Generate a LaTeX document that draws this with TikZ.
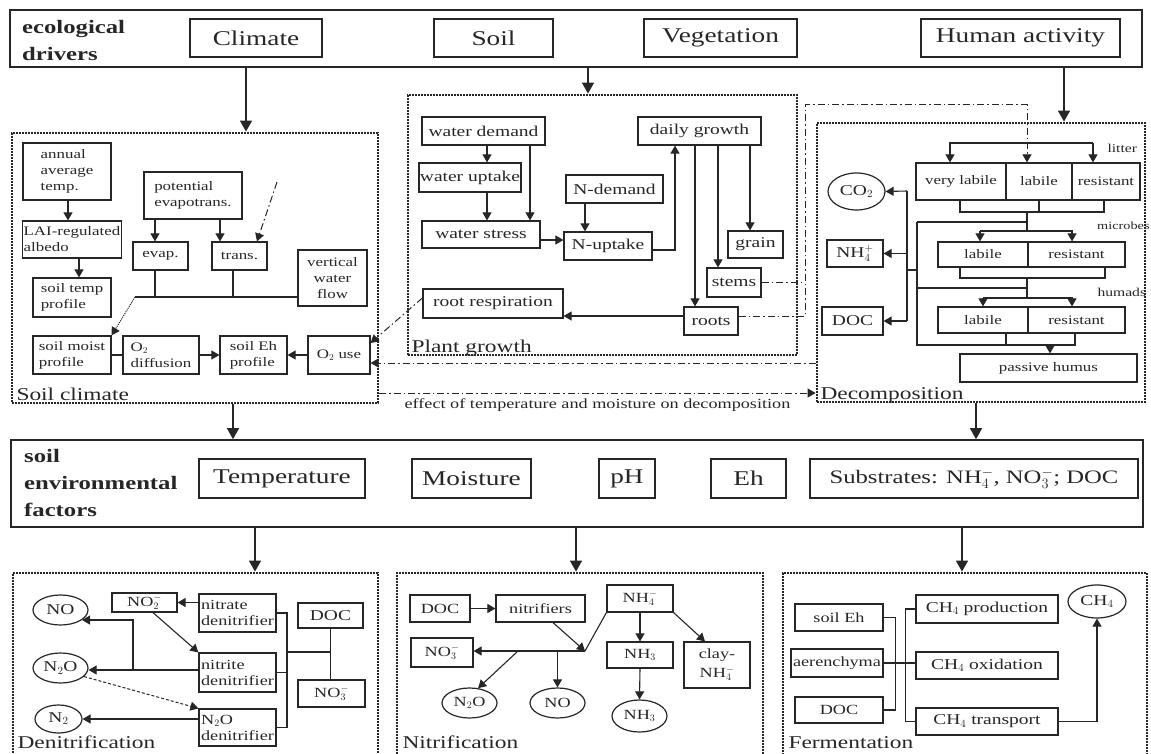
\documentclass[tikz,border=0pt]{standalone}
\usepackage{fontspec}
\setmainfont{Liberation Serif}[FakeStretch=1.3]
\usepackage{tikz}
\usetikzlibrary{arrows.meta,shapes.geometric}
\newcommand{\fbig}{\fontsize{21}{24}\selectfont}
\newcommand{\fhead}{\fontsize{19}{27}\selectfont\bfseries}
\newcommand{\fsec}{\fontsize{18}{20}\selectfont}
\newcommand{\fmid}{\fontsize{15}{17}\selectfont}
\newcommand{\fsc}{\fontsize{13}{16}\selectfont}
\newcommand{\fdn}{\fontsize{14}{16}\selectfont}
\newcommand{\ftiny}{\fontsize{12}{14}\selectfont}

\begin{document}
\begin{tikzpicture}[x=1pt, y=-1pt, color=black!85,
    wh/.style 2 args={minimum width=#1pt, minimum height=#2pt},
    box/.style={draw, line width=1.2pt, inner sep=1pt, align=center},
    oval/.style={draw, ellipse, line width=1.2pt, inner sep=0pt},
    bar/.style={draw, line width=1.6pt, inner sep=0pt},
    sect/.style={draw, line width=2.8pt, dash pattern=on 2pt off 1pt, inner sep=0pt},
    arr/.style={-{Triangle[length=8pt,width=9pt]}, line width=1.1pt},
    bigarr/.style={-{Triangle[length=11pt,width=12pt]}, line width=1.4pt},
    dd/.style={line width=1pt, dash pattern=on 7pt off 3pt on 1.5pt off 3pt},
    ln/.style={line width=1.1pt}]
    \useasboundingbox (0,0) rectangle (1151,754);

    % Ecological drivers
    \node[bar, wh={1132}{57}] (drivers) at (576,38.5) {};
    \node[anchor=north west, align=left, inner sep=0, font=\fhead] (drvlbl) at (22,20) {ecological\\drivers};
    \node[box, wh={132}{38}, font=\fbig] (climate) at (256,38) {Climate};
    \node[box, wh={119}{38}, font=\fbig] (soil) at (493.5,38) {Soil};
    \node[box, wh={153}{38}, font=\fbig] (veg) at (720.5,38) {Vegetation};
    \node[box, wh={199}{38}, font=\fbig] (human) at (1020.5,38) {Human activity};

    % Model sections
    \node[sect, wh={366}{270}] (soilclim) at (195,268) {};
    \node[sect, wh={389}{260}] (plantgr) at (602.5,225) {};
    \node[sect, wh={328}{279}] (decomp) at (981,262.5) {};
    \node[anchor=base west, font=\fsec] (sclbl) at (13,400) {Soil climate};
    \node[anchor=base west, font=\fsec] (pglbl) at (408,352) {Plant growth};
    \node[anchor=base west, font=\fsec] (dclbl) at (817,399) {Decomposition};

    \draw[bigarr] (drivers.south -| 246,0) -- (soilclim.north -| 246,0);
    \draw[bigarr] (drivers.south -| 588,0) -- (plantgr.north -| 588,0);
    \draw[bigarr] (drivers.south -| 1064,0) -- (decomp.north -| 1064,0);

    % Soil climate
    \node[box, wh={88}{57}, align=left, font=\fsc] (annual) at (67,171.5) {annual\\average\\temp.};
    \node[box, wh={98}{37}, align=left, font=\fsc] (lai) at (72,239.5) {LAI-regulated\\albedo};
    \node[box, wh={78}{39}, align=left, font=\fsc] (soiltemp) at (72,297.5) {soil temp\\profile};
    \node[box, wh={98}{47}, align=left, font=\fsc] (potevap) at (193,195.5) {potential\\evapotrans.};
    \node[box, wh={55}{28}, font=\fsc] (evap) at (160.5,256) {evap.};
    \node[box, wh={55}{28}, font=\fsc] (trans) at (239.5,256) {trans.};
    \node[box, wh={69}{56}, font=\fsc] (vflow) at (332.5,278) {vertical\\water\\flow};
    \node[box, wh={78}{38}, align=left, font=\fsc] (soilmoist) at (72,355) {soil moist\\profile};
    \node[box, wh={76}{38}, align=left, font=\fsc] (otwodiff) at (161,355) {O$_2$\\diffusion};
    \node[box, wh={67}{38}, align=left, font=\fsc] (soileh) at (253.5,355) {soil Eh\\profile};
    \node[box, wh={62}{38}, font=\fsc] (otwouse) at (339,355) {O$_2$ use};

    \draw[arr] (annual.south -| 68,0) -- (lai.north -| 68,0);
    \draw[arr] (lai.south -| 79,0) -- (soiltemp.north -| 79,0);
    \draw[arr] (potevap.south -| 155,0) -- (evap.north -| 155,0);
    \draw[arr] (potevap.south -| 220,0) -- (trans.north -| 220,0);
    \coordinate (vegin) at (277,182);
    \draw[dd, arr, line width=1pt] (vegin) -- (trans.north -| 257,0);
    \coordinate (wjoin) at (135,297);
    \draw[ln] (vflow.west |- wjoin) -- (wjoin);
    \draw[ln] (evap.south -| 155,0) -- (wjoin -| 155,0);
    \draw[ln] (trans.south -| 233,0) -- (wjoin -| 233,0);
    \draw[arr, densely dotted, line width=1pt] (wjoin) -- (soilmoist.north east);
    \draw[ln] (soilmoist.east) -- (otwodiff.west);
    \draw[arr] (otwodiff.east) -- (soileh.west);
    \draw[arr] (otwouse.west) -- (soileh.east);

    % Plant growth
    \node[box, wh={123}{28}, font=\fmid] (wdem) at (483.5,131) {water demand};
    \node[box, wh={96}{29}, font=\fmid] (wupt) at (470,177.5) {water uptake};
    \node[box, wh={118}{27}, font=\fmid] (wstr) at (481,234.5) {water stress};
    \node[box, wh={97}{28}, font=\fmid] (ndem) at (614.5,189) {N-demand};
    \node[box, wh={88}{28}, font=\fmid] (nupt) at (608,246) {N-uptake};
    \node[box, wh={123}{28}, font=\fmid] (dgrow) at (699.5,131) {daily growth};
    \node[box, wh={55}{27}, font=\fmid] (grain) at (755.5,244.5) {grain};
    \node[box, wh={54}{29}, font=\fmid] (stems) at (734,282.5) {stems};
    \node[box, wh={140}{29}, font=\fmid] (rresp) at (493,303.5) {root respiration};
    \node[box, wh={54}{28}, font=\fmid] (roots) at (711,321) {roots};

    \draw[arr] (wdem.south -| 487,0) -- (wupt.north -| 487,0);
    \draw[arr] (wdem.south -| 530,0) -- (wstr.north -| 530,0);
    \draw[arr] (wupt.south -| 487,0) -- (wstr.north -| 487,0);
    \draw[arr] (wstr.east |- 0,240) -- (nupt.west |- 0,240);
    \draw[arr] (ndem.south -| 585,0) -- (nupt.north -| 585,0);
    \draw[arr] (nupt.east |- 0,250) -| (dgrow.south -| 675,0);
    \draw[arr] (dgrow.south -| 695,0) -- (roots.north -| 695,0);
    \draw[arr] (dgrow.south -| 718,0) -- (stems.north -| 718,0);
    \draw[arr] (dgrow.south -| 750,0) -- (grain.north -| 750,0);
    \draw[arr] (roots.west |- 0,316) -- (rresp.east |- 0,316);

    % Decomposition
    \node[box, wh={90}{37}, font=\fsc] (vlab) at (961,181.5) {very labile};
    \node[box, wh={66}{37}, font=\fsc] (llab) at (1039,181.5) {labile};
    \node[box, wh={68}{37}, font=\fsc] (lres) at (1106,181.5) {resistant};
    \node[box, wh={90}{25}, font=\fsc] (mlab) at (983,254.5) {labile};
    \node[box, wh={97}{25}, font=\fsc] (mres) at (1076.5,254.5) {resistant};
    \node[box, wh={90}{26}, font=\fsc] (hlab) at (983,320) {labile};
    \node[box, wh={97}{26}, font=\fsc] (hres) at (1076.5,320) {resistant};
    \node[box, wh={177}{28}, font=\fsc] (phum) at (1048.5,368) {passive humus};
    \node[oval, wh={57}{37}, font=\fmid] (cotwo) at (856.5,191.5) {CO$_2$};
    \node[box, wh={56}{27}, font=\fmid] (nhfour) at (855,253.5) {NH$_4^+$};
    \node[box, wh={61}{28}, font=\fmid] (ddoc) at (852.5,321) {DOC};
    \node[anchor=west, font=\ftiny] (litlbl) at (1104,148) {litter};
    \node[anchor=west, inner sep=1pt, font=\fontsize{11}{13}\selectfont] (miclbl) at (1096,226) {microbes};
    \node[anchor=west, font=\ftiny] (humlbl) at (1094,292) {humads};

    \coordinate (litend) at (1093,143);
    \draw[arr] (litend) -| (vlab.north -| 950,0);
    \draw[arr] (litend) -- (lres.north -| 1093,0);
    \draw[ln] (vlab.south -| 960,0) -- (960,212) -- (1104,212) -- (lres.south -| 1104,0);
    \draw[ln] (llab.south -| 1039,0) -- (1039,212);
    \draw[ln] (1027,212) -- (1027,231);
    \draw[ln] (917,222) -- (1027,222);
    \draw[arr] (980,231) -- (mlab.north -| 980,0);
    \draw[arr] (980,231) -- (1072,231) -- (mres.north -| 1072,0);
    \draw[ln] (mlab.south -| 960,0) -- (960,278) -- (1105,278) -- (mres.south -| 1105,0);
    \draw[ln] (1027,278) -- (1027,298);
    \draw[ln] (917,288) -- (1027,288);
    \draw[arr] (983,298) -- (hlab.north -| 983,0);
    \draw[arr] (983,298) -- (1072,298) -- (hres.north -| 1072,0);
    \draw[ln] (hlab.south -| 1006,0) -- (1006,345);
    \draw[ln] (hres.south -| 1075,0) -- (1075,345) -- (917,345) -- (917,222);
    \draw[arr] (1050,345) -- (phum.north -| 1050,0);
    \draw[ln] (917,270) -- (907,270);
    \draw[ln] (907,191) -- (907,321);
    \draw[arr] (907,191) -- (cotwo.east);
    \draw[arr] (907,253.5) -- (nhfour.east);
    \draw[arr] (907,321) -- (ddoc.east);

    % Links between sections (dash-dot)
    \coordinate (pbus) at (805,105);
    \draw[dd] (stems.east) -- (stems.east -| pbus);
    \draw[dd, arr, line width=1pt] (roots.east |- 0,316) -| (pbus) -| (llab.north -| 1027,0);
    \draw[dd, arr, line width=1pt] (rresp.west |- 0,298) -- (otwouse.east |- 0,343);
    \draw[dd, arr, line width=1pt] (decomp.west |- 0,363) -- (otwouse.east |- 0,363);
    \draw[dd, arr, line width=1pt] (soilclim.east |- 0,393) -- (decomp.west |- 0,393)
        node[midway, below=2pt, font=\fdn] (efflbl) {effect of temperature and moisture on decomposition};

    % Soil environmental factors
    \node[bar, wh={1132}{87}] (envf) at (577,483.5) {};
    \node[anchor=north west, align=left, inner sep=0, font=\fhead] (envlbl) at (24,449) {soil\\environmental\\factors};
    \node[box, wh={166}{39}, font=\fbig] (temp) at (282,478.5) {Temperature};
    \node[box, wh={119}{39}, font=\fbig] (moist) at (471.5,478.5) {Moisture};
    \node[box, wh={56}{39}, font=\fbig] (ph) at (627,478.5) {pH};
    \node[box, wh={75}{39}, font=\fbig] (eh) at (748.5,478.5) {Eh};
    \node[box, wh={328}{39}, font=\fontsize{19}{22}\selectfont] (subs) at (974,478.5) {Substrates: NH$_4^-$, NO$_3^-$; DOC};

    \draw[bigarr] (soilclim.south -| 233,0) -- (envf.north -| 233,0);
    \draw[bigarr] (decomp.south -| 976,0) -- (envf.north -| 976,0);

    % Bottom processes
    \node[sect, wh={365}{184}] (denit) at (195.5,665) {};
    \node[sect, wh={366}{184}] (nitrif) at (580,665) {};
    \node[sect, wh={364}{184}] (ferm) at (965,665) {};
    \node[anchor=base west, font=\fsec] (dnlbl) at (14,748) {Denitrification};
    \node[anchor=base west, font=\fsec] (nilbl) at (399,748) {Nitrification};
    \node[anchor=base west, font=\fsec] (felbl) at (785,748) {Fermentation};

    \draw[bigarr] (envf.south -| 255,0) -- (denit.north -| 255,0);
    \draw[bigarr] (envf.south -| 576,0) -- (nitrif.north -| 576,0);
    \draw[bigarr] (envf.south -| 962,0) -- (ferm.north -| 962,0);

    % Denitrification
    \node[oval, wh={55}{30}, font=\fmid] (no) at (60.5,610) {NO};
    \node[oval, wh={55}{30}, font=\fmid] (ntwoo) at (60.5,668) {N$_2$O};
    \node[oval, wh={47}{28}, font=\fmid] (ntwo) at (58.5,719) {N$_2$};
    \node[box, wh={65}{19}, inner sep=0pt, font=\fdn] (notwo) at (144.5,602.5) {NO$_2^-$};
    \node[box, wh={77}{38}, align=left, font=\fdn] (nrat) at (237.5,613) {nitrate\\denitrifier};
    \node[box, wh={77}{39}, align=left, font=\fdn] (nrit) at (237.5,672.5) {nitrite\\denitrifier};
    \node[box, wh={77}{37}, align=left, font=\fdn] (nntwoo) at (237.5,727.5) {N$_2$O\\denitrifier};
    \node[box, wh={65}{25}, font=\fmid] (dndoc) at (330.5,615.5) {DOC};
    \node[box, wh={67}{27}, font=\fdn] (nothree) at (331.5,693.5) {NO$_3^-$};

    \draw[arr] (nrat.west |- notwo.east) -- (notwo.east);
    \draw[arr] (notwo.south -| 153,0) -- (nrit.north west);
    \draw[arr] (nrit.west |- 0,670) -- (ntwoo.east |- 0,670);
    \coordinate (dnj) at (133,670);
    \draw[arr] (dnj) |- (no.-25);
    \draw[arr, densely dashed, line width=1pt] (ntwoo.-20) -- (nntwoo.north west);
    \draw[arr] (nntwoo.west |- ntwo.east) -- (ntwo.east);
    \coordinate (dnbus) at (287,652);
    \draw[ln] (nrat.east) -| (dnbus) |- (nntwoo.east);
    \draw[ln] (nrit.east) -- (nrit.east -| dnbus);
    \draw[ln] (dnbus) -- (dnbus -| dndoc.south);
    \draw[ln] (dndoc.south) -- (nothree.north -| dndoc.south);

    % Nitrification
    \node[box, wh={60}{27}, font=\fdn] (nidoc) at (440,608.5) {DOC};
    \node[box, wh={89}{27}, font=\fdn] (nitr) at (540.5,608.5) {nitrifiers};
    \node[box, wh={66}{27}, font=\fdn] (nhfourb) at (640,598.5) {NH$_4^-$};
    \node[box, wh={62}{29}, font=\fdn] (nothreeb) at (442,652.5) {NO$_3^-$};
    \node[box, wh={66}{26}, font=\fdn] (nhthreeb) at (640,655) {NH$_3$};
    \node[box, wh={66}{46}, font=\fontsize{14}{19}\selectfont] (clay) at (717,665) {clay-\\NH$_4^-$};
    \node[oval, wh={55}{30}, font=\fdn] (ntwooe) at (469.5,703) {N$_2$O};
    \node[oval, wh={55}{30}, font=\fdn] (noe) at (557.5,703) {NO};
    \node[oval, wh={55}{32}, font=\fdn] (nhthreee) at (639.5,716) {NH$_3$};

    \draw[arr] (nidoc.east) -- (nitr.west);
    \coordinate (nij) at (585,651);
    \draw[arr] (nitr.south -| 553,0) -- (nij);
    \draw[ln] (nhfourb.south west) -- (nij);
    \draw[arr] (nij) -- (nothreeb.east |- nij);
    \draw[arr] (nij -| 518,0) -- (ntwooe.60);
    \draw[arr] (nij -| noe.north) -- (noe.north);
    \draw[arr] (nhfourb.south) -- (nhthreeb.north);
    \draw[arr] (nhthreeb.south) -- (nhthreee.north);
    \draw[arr] (nhfourb.south east) -- (clay.north -| 705,0);

    % Fermentation
    \node[box, wh={88}{27}, font=\fdn] (feh) at (839,617.5) {soil Eh};
    \node[box, wh={92}{28}, font=\fdn] (aer) at (837,663) {aerenchyma};
    \node[box, wh={88}{26}, font=\fdn] (fdoc) at (839,710) {DOC};
    \node[box, wh={142}{28}, font=\fmid] (chprod) at (987,609) {CH$_4$ production};
    \node[box, wh={142}{27}, font=\fmid] (choxid) at (987,665.5) {CH$_4$ oxidation};
    \node[box, wh={142}{27}, font=\fmid] (chtrans) at (987,721.5) {CH$_4$ transport};
    \node[oval, wh={58}{33}, font=\fmid] (chfour) at (1097,601.5) {CH$_4$};

    \draw[ln] (feh.east) -- ++(12,0) |- (fdoc.east);
    \draw[ln] (chprod.west) -- ++(-10,0) |- (chtrans.west);
    \draw[ln] (aer.east) -- (choxid.west |- aer.east);
    \draw[arr] (chtrans.east) -| (chfour.south);
\end{tikzpicture}
\end{document}
